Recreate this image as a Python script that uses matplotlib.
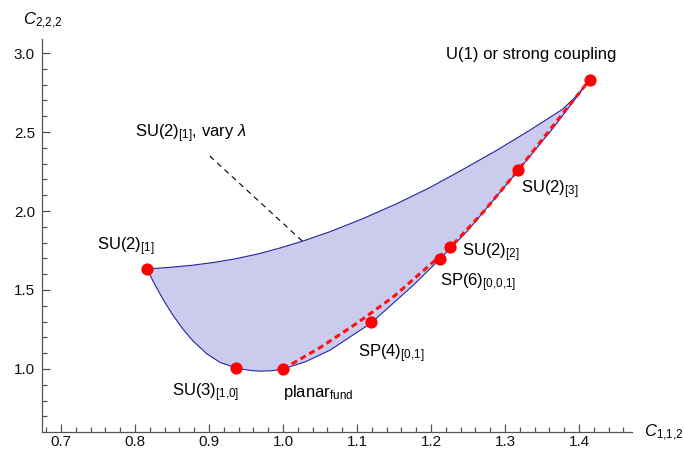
import matplotlib
matplotlib.use("Agg")
import matplotlib.pyplot as plt

plt.rcParams['font.family'] = ['Liberation Sans', 'DejaVu Sans']
plt.rcParams['mathtext.fontset'] = 'custom'
plt.rcParams['mathtext.rm'] = 'Liberation Sans'
plt.rcParams['mathtext.it'] = 'Liberation Sans:italic'

# boundary of the allowed region
upper_x = [0.816, 0.846, 0.876, 0.906, 0.936, 0.966, 0.996, 1.027, 1.064, 1.108, 1.154,
           1.199, 1.243, 1.289, 1.334, 1.378, 1.398, 1.414]
upper_y = [1.633, 1.643, 1.656, 1.674, 1.698, 1.728, 1.766, 1.810, 1.870, 1.952, 2.047,
           2.150, 2.263, 2.385, 2.513, 2.645, 2.735, 2.828]

lower_x = [0.816, 0.826, 0.838, 0.851, 0.865, 0.878, 0.897, 0.915, 0.936, 0.946, 0.958,
           0.970, 0.985, 1.000, 1.030, 1.064, 1.119, 1.176, 1.212, 1.250, 1.290, 1.318,
           1.365, 1.414]
lower_y = [1.633, 1.541, 1.440, 1.342, 1.251, 1.179, 1.096, 1.041, 1.008, 0.998, 0.990,
           0.986, 0.989, 1.000, 1.045, 1.120, 1.291, 1.530, 1.696, 1.878, 2.100, 2.258,
           2.525, 2.828]

# red dotted curve from planar to U(1)
red_x = [1.000, 1.050, 1.100, 1.150, 1.200, 1.226, 1.270, 1.318, 1.365, 1.414]
red_y = [1.000, 1.135, 1.290, 1.460, 1.665, 1.770, 1.990, 2.260, 2.540, 2.828]

# labelled theories
names = ["SU(2)$_{\\mathrm{[1]}}$", "SU(3)$_{\\mathrm{[1{,}0]}}$", "planar$_{\\mathrm{fund}}$",
         "SP(4)$_{\\mathrm{[0{,}1]}}$", "SP(6)$_{\\mathrm{[0{,}0{,}1]}}$", "SU(2)$_{\\mathrm{[2]}}$",
         "SU(2)$_{\\mathrm{[3]}}$", "U(1) or strong coupling"]
pt_x = [0.816, 0.936, 1.000, 1.119, 1.212, 1.226, 1.317, 1.415]
pt_y = [1.633, 1.006, 1.000, 1.297, 1.696, 1.772, 2.260, 2.829]
lab_x = [0.788, 0.895, 1.000, 1.101, 1.212, 1.242, 1.322, 1.336]
lab_y = [1.753, 0.829, 0.823, 1.076, 1.525, 1.715, 2.114, 2.962]
lab_ha = ['center', 'center', 'left', 'left', 'left', 'left', 'left', 'center']

fig = plt.figure(figsize=(6.84, 4.50), dpi=100)
ax = fig.add_axes([42 / 684, 18 / 450, 590 / 684, 393 / 450])

poly_x = upper_x + lower_x[::-1]
poly_y = upper_y + lower_y[::-1]
ax.fill(poly_x, poly_y, color='#cbcced', lw=0)
ax.plot(upper_x, upper_y, color='#2424a4', lw=0.8)
ax.plot(lower_x, lower_y, color='#2424a4', lw=0.8)

red_line, = ax.plot(red_x, red_y, color='#ff1010', lw=2.2)
red_line.set_dashes([2.0, 1.3])
red_line.set_dash_capstyle('butt')

ax.plot(pt_x, pt_y, 'o', color='#ff0000', ms=8.8, mec='none', zorder=5)

for name, x, y, ha in zip(names, lab_x, lab_y, lab_ha):
    ax.text(x, y, name, ha=ha, va='baseline', fontsize=12)

# annotation for the upper edge
ax.plot([0.901, 1.026], [2.348, 1.81], color='black', lw=0.8, dashes=(5, 4))
ax.text(0.800, 2.468, "SU(2)$_{\\mathrm{[1]}}$, vary $\\lambda$", ha='left', va='baseline', fontsize=12)

ax.set_xlim(0.6743, 1.4716)
ax.set_ylim(0.601, 3.089)

ax.spines['top'].set_visible(False)
ax.spines['right'].set_visible(False)
for s in ['left', 'bottom']:
    ax.spines[s].set_color('#555555')
    ax.spines[s].set_linewidth(0.9)

x_major = [0.7, 0.8, 0.9, 1.0, 1.1, 1.2, 1.3, 1.4]
x_minor = [0.68 + 0.02 * i for i in range(40)]
y_major = [1.0, 1.5, 2.0, 2.5, 3.0]
y_minor = [0.7 + 0.1 * i for i in range(24)]
ax.set_xticks(x_major)
ax.set_xticklabels(["0.7", "0.8", "0.9", "1.0", "1.1", "1.2", "1.3", "1.4"])
ax.set_xticks(x_minor, minor=True)
ax.set_yticks(y_major)
ax.set_yticklabels(["1.0", "1.5", "2.0", "2.5", "3.0"])
ax.set_yticks(y_minor, minor=True)
ax.tick_params(which='both', direction='in', color='#555555', width=0.9, labelsize=11, labelcolor='#111111')
ax.tick_params(which='major', length=6)
ax.tick_params(which='minor', length=3.5)
ax.tick_params(axis='y', which='major', pad=5)
ax.tick_params(axis='x', which='major', pad=2.2)

fig.text(23 / 684, 1 - 25 / 450, "$C_{\\mathrm{2{,}2{,}2}}$", ha='left', va='baseline', fontsize=12)
fig.text(644 / 684, 13 / 450, "$C_{\\mathrm{1{,}1{,}2}}$", ha='left', va='baseline', fontsize=12)

fig.savefig("out.png", dpi=100)
